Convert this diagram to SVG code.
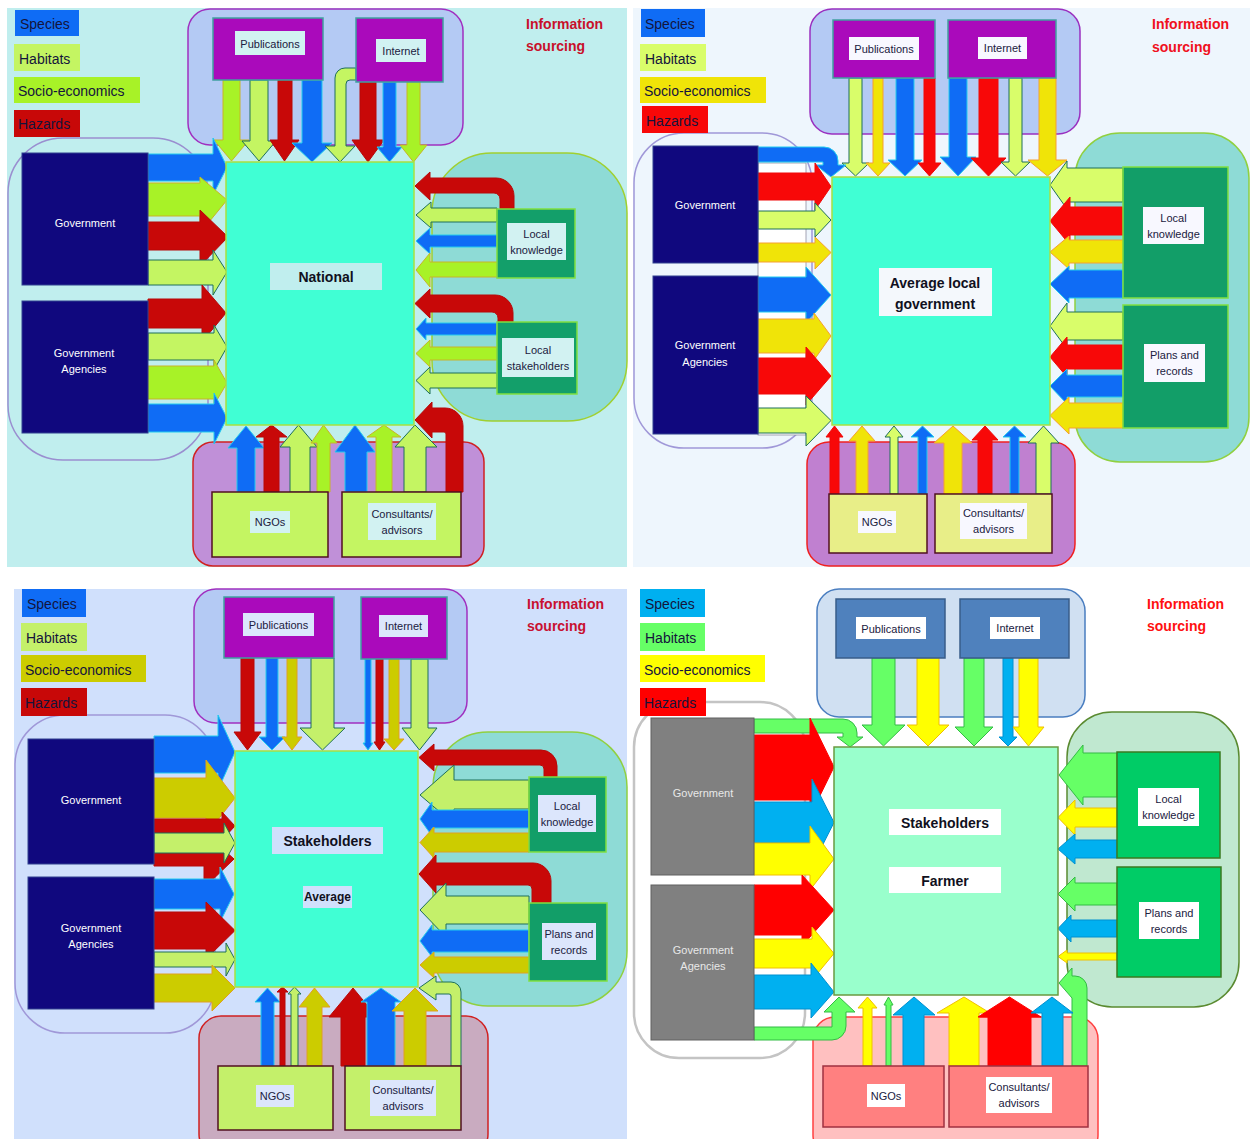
<svg xmlns="http://www.w3.org/2000/svg" width="1250" height="1139" viewBox="0 0 1250 1139">
<style>
text{font-family:"Liberation Sans",Arial,sans-serif}
.lg{font-size:14px;fill:#14143c}
.lb{font-size:11px;fill:#202040;text-anchor:middle}
.wt{font-size:11px;fill:#ffffff;text-anchor:middle}
.gt{font-size:11px;fill:#e8e8e8;text-anchor:middle}
.ct{font-size:14px;font-weight:bold;fill:#101020;text-anchor:middle}
.is{font-size:14px;font-weight:bold}
.a{stroke-width:1;stroke-linejoin:miter}
.p1b,.p2b,.p3b{fill:#0f6cf5;stroke:#22ccee}
.p1g{fill:#c4f562;stroke:#1f6f5a}
.p1l{fill:#a8f227;stroke:#c8b428}
.p1r,.p3r{fill:#c80808;stroke:#b80808}
.p2g{fill:#d9fd6a;stroke:#1f6f5a}
.p2y{fill:#f0e408;stroke:#f5a030}
.p2r{fill:#f80808;stroke:#f00808}
.p3g{fill:#c4f06a;stroke:#1f6f5a}
.p3o{fill:#cccc00;stroke:#e0a020}
.p4b{fill:#00b0f0;stroke:#0090d0}
.p4g{fill:#66ff66;stroke:#33bb44}
.p4y{fill:#ffff00;stroke:#f0c000}
.p4r{fill:#ff0000;stroke:#ff0000}
.nav{fill:#10087e;stroke:#304090}
.gry{fill:#808080;stroke:#606060}
</style>

<!-- ================= PANEL 1 ================= -->
<g id="panel1">
<rect x="7" y="8" width="620" height="559" fill="#c0eeee"/>
<rect id="p1-gov-group" x="8" y="138" width="200" height="322" rx="55" fill="none" stroke="#9a8fd0" stroke-width="1.5"/>
<rect id="p1-pub-group" x="188" y="9" width="275" height="136" rx="22" fill="#b4caf4" stroke="#a030c0" stroke-width="1.5"/>
<rect id="p1-local-group" x="432" y="153" width="195" height="268" rx="60" fill="#8edbd6" stroke="#a0d030" stroke-width="1.5"/>
<rect id="p1-ngo-group" x="193" y="442" width="291" height="124" rx="20" fill="#c090d8" stroke="#d02020" stroke-width="1.5"/>
<g id="p1-legend">
<rect x="15" y="10" width="64" height="26" fill="#0f6cf5"/><text class="lg" x="20" y="29">Species</text>
<rect x="14" y="44" width="66" height="27" fill="#c4f562"/><text class="lg" x="19" y="64">Habitats</text>
<rect x="14" y="77" width="126" height="26" fill="#a8f227"/><text class="lg" x="18" y="96">Socio-economics</text>
<rect x="14" y="110" width="66" height="27" fill="#c80808"/><text class="lg" x="18" y="129">Hazards</text>
</g>
<g id="p1-title"><text class="is" fill="#c8102a" x="526" y="29">Information</text><text class="is" fill="#c8102a" x="526" y="51">sourcing</text></g>
<g id="p1-connectors" class="a">
<polygon class="p1l" points="223,80 240,80 240,140 249,140 231.5,161 214,140 223,140"/>
<polygon class="p1g" points="250,80 268,80 268,141 276,141 259,161 242,141 250,141"/>
<polygon class="p1r" points="278,80 292,80 292,140 299,140 284.5,161 270,140 278,140"/>
<polygon class="p1b" points="302,80 322,80 322,143 332,143 312,162 292,143 302,143"/>
<path class="p1g" d="M356,68 L345,68 A10,10 0 0 0 335,78 L335,146 L325,146 L340,162 L355,146 L346,146 L346,84 A4,4 0 0 1 350,80 L356,80 Z"/>
<polygon class="p1r" points="360,82 376,82 376,140 384,140 368,162 352,140 360,140"/>
<polygon class="p1b" points="383,82 396,82 396,147 402,147 389.5,162 377,147 383,147"/>
<polygon class="p1l" points="407,82 420,82 420,145 427,145 413.5,162 400,145 407,145"/>

<polygon class="p1b" points="148,154 213,154 213,138 227,167 213,195 213,181 148,181"/>
<polygon class="p1l" points="148,183 200,183 200,177 227,200 200,233 200,216 148,216"/>
<polygon class="p1r" points="148,222 200,222 200,210 228,237 200,266 200,250 148,250"/>
<polygon class="p1g" points="148,260 213,260 213,250 227,272 213,295 213,285 148,285"/>
<polygon class="p1r" points="148,299 202,299 202,285 226,313 202,342 202,328 148,328"/>
<polygon class="p1g" points="148,333 214,333 214,325 227,347 214,370 214,360 148,360"/>
<polygon class="p1l" points="148,366 214,366 214,360 227,383 214,405 214,399 148,399"/>
<polygon class="p1b" points="148,404 214,404 214,393 227,418 214,444 214,432 148,432"/>

<path class="p1r" d="M514,209 L514,196 A18,18 0 0 0 496,178 L430,178 L430,172 L415,186 L430,200 L430,193 L494,193 A6,6 0 0 1 500,199 L500,209 Z"/>
<polygon class="p1g" points="497,208 431,208 431,202 416,215 431,228 431,222 497,222"/>
<polygon class="p1b" points="497,235 430,235 430,228 416,241 430,254 430,247 497,247"/>
<polygon class="p1l" points="497,262 430,262 430,253 416,270 430,287 430,277 497,277"/>
<path class="p1r" d="M513,322 L513,313 A18,18 0 0 0 495,295 L430,295 L430,289 L415,303.5 L430,318 L430,312 L492,312 A6,6 0 0 1 498,318 L498,322 Z"/>
<polygon class="p1b" points="497,323 426,323 426,318 416,329 426,340 426,335 497,335"/>
<polygon class="p1l" points="497,347 430,347 430,340 416,353.5 430,367 430,360 497,360"/>
<polygon class="p1g" points="497,373 430,373 430,367 416,380.5 430,394 430,388 497,388"/>
<path class="p1r" d="M463,492 L463,426 A18,18 0 0 0 445,408 L432,408 L432,402 L415,420 L432,438 L432,432 L444,432 A2,2 0 0 1 446,434 L446,492 Z"/>

<polygon class="p1b" points="237,492 255,492 255,448 264,448 246,426 228,448 237,448"/>
<polygon class="p1r" points="264,492 279,492 279,437 287,437 271.5,425 256,437 264,437"/>
<polygon class="p1g" points="290,492 310,492 310,447 317,447 298.5,425 280,447 290,447"/>
<polygon class="p1l" points="317,492 330,492 330,443 337,443 323.5,425 311,443 317,443"/>
<polygon class="p1b" points="345,492 367,492 367,452 375,452 355,425 335,452 345,452"/>
<polygon class="p1l" points="376,492 392,492 392,437 401,437 384,425 367,437 376,437"/>
<polygon class="p1g" points="404,492 426,492 426,447 437,447 415,425 395,447 404,447"/>
</g>
<g id="p1-national"><rect x="226" y="162" width="188" height="263" fill="#40ffd4" stroke="#a8e040" stroke-width="1.5"/><rect x="270" y="263" width="112" height="27" fill="#c0eeee"/><text class="ct" x="326" y="282">National</text></g>
<g id="p1-government"><rect class="nav" x="22" y="153" width="126" height="132"/><text class="wt" x="85" y="227">Government</text></g>
<g id="p1-agencies"><rect class="nav" x="22" y="301" width="126" height="132"/><text class="wt" x="84" y="357">Government</text><text class="wt" x="84" y="373">Agencies</text></g>
<g id="p1-publications"><rect x="213" y="18" width="110" height="62" fill="#aa0abb" stroke="#40a0a0" stroke-width="1.5"/><rect x="235" y="31" width="70" height="24" fill="#d2f2f2"/><text class="lb" x="270" y="47.5">Publications</text></g>
<g id="p1-internet"><rect x="356" y="18" width="87" height="64" fill="#aa0abb" stroke="#40a0a0" stroke-width="1.5"/><rect x="376" y="39" width="50" height="23" fill="#d2f2f2"/><text class="lb" x="401" y="55">Internet</text></g>
<g id="p1-localknowledge"><rect x="497" y="209" width="78" height="69" fill="#139f6a" stroke="#80e040" stroke-width="1.5"/><rect x="507" y="223" width="59" height="37" fill="#d2f2f2"/><text class="lb" x="536.5" y="238">Local</text><text class="lb" x="536.5" y="254">knowledge</text></g>
<g id="p1-localstakeholders"><rect x="497" y="322" width="80" height="72" fill="#139f6a" stroke="#80e040" stroke-width="1.5"/><rect x="502" y="338" width="72" height="39" fill="#d2f2f2"/><text class="lb" x="538" y="354">Local</text><text class="lb" x="538" y="370">stakeholders</text></g>
<g id="p1-ngos"><rect x="212" y="492" width="116" height="65" fill="#c4f562" stroke="#501020" stroke-width="1.5"/><rect x="250" y="511" width="40" height="22" fill="#d2f2f2"/><text class="lb" x="270" y="526">NGOs</text></g>
<g id="p1-consultants"><rect x="342" y="492" width="119" height="65" fill="#c4f562" stroke="#501020" stroke-width="1.5"/><rect x="368" y="503" width="68" height="37" fill="#d2f2f2"/><text class="lb" x="402" y="518">Consultants/</text><text class="lb" x="402" y="534">advisors</text></g>
</g>

<!-- ================= PANEL 2 ================= -->
<g id="panel2">
<rect x="633" y="8" width="617" height="559" fill="#eef6fd"/>
<rect id="p2-gov-group" x="634" y="133" width="178" height="315" rx="50" fill="none" stroke="#a098d8" stroke-width="1.5"/>
<rect id="p2-pub-group" x="810" y="9" width="270" height="125" rx="22" fill="#b4caf4" stroke="#9a30c0" stroke-width="1.5"/>
<rect id="p2-local-group" x="1075" y="133" width="174" height="329" rx="45" fill="#8edbd6" stroke="#90d040" stroke-width="1.5"/>
<rect id="p2-ngo-group" x="807" y="442" width="268" height="124" rx="22" fill="#c080d0" stroke="#f02020" stroke-width="1.5"/>
<g id="p2-legend">
<rect x="641" y="9" width="64" height="28" fill="#0f6cf5"/><text class="lg" x="645" y="29">Species</text>
<rect x="640" y="44" width="66" height="27" fill="#d9fd6a"/><text class="lg" x="645" y="64">Habitats</text>
<rect x="640" y="77" width="126" height="26" fill="#f0e408"/><text class="lg" x="644" y="96">Socio-economics</text>
<rect x="642" y="106" width="66" height="27" fill="#f80808"/><text class="lg" x="646" y="126">Hazards</text>
</g>
<g id="p2-title"><text class="is" fill="#f01020" x="1152" y="29">Information</text><text class="is" fill="#f01020" x="1152" y="52">sourcing</text></g>
<rect x="758" y="163" width="48" height="272" fill="#ffffff" stroke="#9090a0" stroke-width="0.8"/>
<g id="p2-connectors" class="a">
<polygon class="p2g" points="849,78 862,78 862,163 869,163 855.5,176 842,163 849,163"/>
<polygon class="p2y" points="873,78 883,78 883,163 890,163 878,176 866,163 873,163"/>
<polygon class="p2b" points="896,78 914,78 914,160 922,160 905,176 888,160 896,160"/>
<polygon class="p2r" points="924,78 935,78 935,163 941,163 929.5,176 918,163 924,163"/>
<polygon class="p2b" points="949,78 967,78 967,157 976,157 958,176 940,157 949,157"/>
<polygon class="p2r" points="979,78 998,78 998,158 1006,158 988.5,176 971,158 979,158"/>
<polygon class="p2g" points="1009,78 1022,78 1022,162 1030,162 1015.5,176 1001,162 1009,162"/>
<polygon class="p2y" points="1039,78 1056,78 1056,160 1067,160 1047.5,176 1028,160 1039,160"/>

<path class="p2b" d="M758,147 L824,147 A14,14 0 0 1 838,161 L838,165 L846,165 L831,177 L816,165 L823,165 L823,162 L758,162 Z"/>
<polygon class="p2r" points="758,173 815,173 815,163 831,186.5 815,210 815,200 758,200"/>
<polygon class="p2g" points="758,211 815,211 815,203 831,220 815,237 815,229 758,229"/>
<polygon class="p2y" points="758,243 815,243 815,237 831,252.5 815,269 815,262 758,262"/>
<polygon class="p2b" points="758,277 806,277 806,267 831,295 806,323 806,312 758,312"/>
<polygon class="p2y" points="758,319 814,319 814,313 831,336 814,360 814,353 758,353"/>
<polygon class="p2r" points="758,358 806,358 806,347 831,376 806,405 806,394 758,394"/>
<polygon class="p2g" points="758,408 806,408 806,396 831,420.5 806,446 806,433 758,433"/>

<polygon class="p2g" points="1123,168 1067,168 1067,161 1050,185 1067,209 1067,202 1123,202"/>
<polygon class="p2r" points="1123,207 1070,207 1070,197 1050,221 1070,245 1070,235 1123,235"/>
<polygon class="p2y" points="1123,240 1069,240 1069,236 1050,252 1069,269 1069,263 1123,263"/>
<polygon class="p2b" points="1123,270 1069,270 1069,266 1050,284 1069,303 1069,298 1123,298"/>
<polygon class="p2g" points="1123,312 1067,312 1067,303 1050,326 1067,349 1067,340 1123,340"/>
<polygon class="p2r" points="1123,345 1067,345 1067,337 1050,357 1067,377 1067,369 1123,369"/>
<polygon class="p2b" points="1123,375 1067,375 1067,369 1050,386 1067,404 1067,397 1123,397"/>
<polygon class="p2y" points="1123,403 1069,403 1069,397 1050,415.5 1069,434 1069,428 1123,428"/>

<polygon class="p2r" points="830,494 839,494 839,437 843,437 834.5,426 826,437 830,437"/>
<polygon class="p2y" points="856,494 868,494 868,441 875,441 862,426 849,441 856,441"/>
<polygon class="p2g" points="890,494 898,494 898,437 903,437 894,426 885,437 890,437"/>
<polygon class="p2b" points="918,494 927,494 927,437 934,437 922.5,426 911,437 918,437"/>
<polygon class="p2y" points="944,494 962,494 962,443 972,443 953,426 934,443 944,443"/>
<polygon class="p2r" points="978,494 992,494 992,440 998,440 985,426 972,440 978,440"/>
<polygon class="p2b" points="1010,494 1019,494 1019,437 1026,437 1014.5,426 1003,437 1010,437"/>
<polygon class="p2g" points="1036,494 1051,494 1051,443 1059,443 1043.5,426 1028,443 1036,443"/>
</g>
<g id="p2-center"><rect x="832" y="177" width="218" height="248" fill="#40ffd4" stroke="#a8e040" stroke-width="1.5"/><rect x="879" y="268" width="113" height="48" fill="#f4f8fc"/><text class="ct" x="935" y="288">Average local</text><text class="ct" x="935" y="309">government</text></g>
<g id="p2-government"><rect class="nav" x="653" y="146" width="105" height="117"/><text class="wt" x="705" y="209">Government</text></g>
<g id="p2-agencies"><rect class="nav" x="653" y="276" width="105" height="158"/><text class="wt" x="705" y="349">Government</text><text class="wt" x="705" y="366">Agencies</text></g>
<g id="p2-publications"><rect x="833" y="20" width="102" height="58" fill="#aa0abb" stroke="#40a0a0" stroke-width="1.5"/><rect x="849" y="37" width="70" height="23" fill="#f8f8ff"/><text class="lb" x="884" y="53">Publications</text></g>
<g id="p2-internet"><rect x="948" y="20" width="108" height="58" fill="#aa0abb" stroke="#40a0a0" stroke-width="1.5"/><rect x="978" y="37" width="49" height="22" fill="#f8f8ff"/><text class="lb" x="1002.5" y="52">Internet</text></g>
<g id="p2-localknowledge"><rect x="1123" y="167" width="105" height="131" fill="#129e68" stroke="#80e040" stroke-width="1.5"/><rect x="1143" y="207" width="61" height="37" fill="#f8f8ff"/><text class="lb" x="1173.5" y="222">Local</text><text class="lb" x="1173.5" y="238">knowledge</text></g>
<g id="p2-plans"><rect x="1123" y="305" width="105" height="123" fill="#129e68" stroke="#80e040" stroke-width="1.5"/><rect x="1144" y="344" width="61" height="38" fill="#f8f8ff"/><text class="lb" x="1174.5" y="359">Plans and</text><text class="lb" x="1174.5" y="375">records</text></g>
<g id="p2-ngos"><rect x="829" y="494" width="98" height="59" fill="#e8ee88" stroke="#501020" stroke-width="1.5"/><rect x="858" y="511" width="38" height="22" fill="#f8f8ff"/><text class="lb" x="877" y="526">NGOs</text></g>
<g id="p2-consultants"><rect x="935" y="494" width="117" height="59" fill="#e8ee88" stroke="#501020" stroke-width="1.5"/><rect x="960" y="503" width="67" height="36" fill="#f8f8ff"/><text class="lb" x="993.5" y="517">Consultants/</text><text class="lb" x="993.5" y="533">advisors</text></g>
</g>

<!-- ================= PANEL 3 ================= -->
<g id="panel3">
<rect x="14" y="589" width="613" height="550" fill="#d0e0fc"/>
<rect id="p3-gov-group" x="15" y="715" width="200" height="318" rx="50" fill="none" stroke="#a098d8" stroke-width="1.5"/>
<rect id="p3-pub-group" x="194" y="589" width="273" height="134" rx="22" fill="#b4caf4" stroke="#a030c0" stroke-width="1.5"/>
<rect id="p3-local-group" x="433" y="732" width="194" height="274" rx="55" fill="#8edbd6" stroke="#90d040" stroke-width="1.5"/>
<rect id="p3-ngo-group" x="199" y="1016" width="289" height="140" rx="22" fill="#c9abc0" stroke="#d02020" stroke-width="1.5"/>
<g id="p3-legend">
<rect x="22" y="589" width="64" height="28" fill="#0f6cf5"/><text class="lg" x="27" y="609">Species</text>
<rect x="21" y="623" width="66" height="28" fill="#c4f06a"/><text class="lg" x="26" y="643">Habitats</text>
<rect x="21" y="655" width="125" height="27" fill="#cccc00"/><text class="lg" x="25" y="675">Socio-economics</text>
<rect x="21" y="688" width="66" height="28" fill="#c80808"/><text class="lg" x="25" y="708">Hazards</text>
</g>
<g id="p3-title"><text class="is" fill="#c81030" x="527" y="609">Information</text><text class="is" fill="#c81030" x="527" y="631">sourcing</text></g>
<g id="p3-connectors" class="a">
<polygon class="p3r" points="241,658 254,658 254,732 261,732 247.5,750 234,732 241,732"/>
<polygon class="p3b" points="266,658 278,658 278,737 285,737 272,750 259,737 266,737"/>
<polygon class="p3o" points="287,658 297,658 297,737 302,737 292,750 282,737 287,737"/>
<polygon class="p3g" points="311,658 334,658 334,728 345,728 322.5,750 300,728 311,728"/>
<polygon class="p3b" points="365,659 371,659 371,743 373,743 368,750 363,743 365,743"/>
<polygon class="p3r" points="376,659 383,659 383,742 385,742 379.5,750 374,742 376,742"/>
<polygon class="p3o" points="389,659 399,659 399,739 404,739 394,750 384,739 389,739"/>
<polygon class="p3g" points="411,659 428,659 428,728 437,728 419.5,750 402,728 411,728"/>

<polygon class="p3b" points="154,736 218,736 218,715 235,752 218,790 218,773 154,773"/>
<polygon class="p3o" points="154,778 206,778 206,760 235,798 206,835 206,818 154,818"/>
<polygon class="p3r" points="154,819 222,819 222,812 235,826 222,840 222,833 154,833"/>
<polygon class="p3r" points="154,853 204,853 204,832 234,859 204,888 204,866 154,866"/>
<polygon class="p3g" points="154,833 224,833 224,823 235,843 224,863 224,853 154,853"/>
<polygon class="p3b" points="154,879 220,879 220,867 234,894 220,922 220,909 154,909"/>
<polygon class="p3r" points="154,912 206,912 206,902 235,930.5 206,959 206,949 154,949"/>
<polygon class="p3g" points="154,952 226,952 226,943 235,959.5 226,976 226,967 154,967"/>
<polygon class="p3o" points="154,974 212,974 212,965 235,988 212,1011 212,1002 154,1002"/>

<path class="p3r" d="M557,777 L557,766 A16,16 0 0 0 541,750 L434,750 L434,744 L419,757.5 L434,771 L434,765 L540,765 A4,4 0 0 1 544,769 L544,777 Z"/>
<polygon class="p3g" points="529,780 454,780 454,765 420,795 454,824 454,809 529,809"/>
<polygon class="p3b" points="529,810 432,810 432,802 420,819 432,836 432,828 529,828"/>
<polygon class="p3o" points="529,833 434,833 434,827 420,842.5 434,858 434,852 529,852"/>
<path class="p3r" d="M551,903 L551,881 A18,18 0 0 0 533,863 L436,863 L436,855 L419,874 L436,893 L436,885 L528,885 A4,4 0 0 1 532,889 L532,903 Z"/>
<polygon class="p3g" points="529,896 446,896 446,883 420,910 446,937 446,924 529,924"/>
<polygon class="p3b" points="529,930 432,930 432,925 420,941 432,957 432,952 529,952"/>
<polygon class="p3o" points="529,957 434,957 434,952 420,965 434,978 434,973 529,973"/>
<path class="p3g" d="M461,1066 L461,992 A10,10 0 0 0 451,982 L436,982 L436,976 L419,988 L436,1000 L436,994 L449,994 A2,2 0 0 1 451,996 L451,1066 Z"/>

<polygon class="p3b" points="261,1066 274,1066 274,1002 280,1002 267.5,988 255,1002 261,1002"/>
<polygon class="p3r" points="280,1066 285,1066 285,992 288,992 282.5,987 277,992 280,992"/>
<polygon class="p3g" points="291,1066 298,1066 298,994 301,994 294.5,987 288,994 291,994"/>
<polygon class="p3o" points="307,1066 322,1066 322,1007 330,1007 314.5,988 299,1007 307,1007"/>
<polygon class="p3r" points="341,1066 365,1066 365,1017 377,1017 353,988 329,1017 341,1017"/>
<polygon class="p3b" points="367,1066 395,1066 395,1002 401,1002 381,988 361,1002 367,1002"/>
<polygon class="p3o" points="404,1066 426,1066 426,1011 438,1011 415,988 392,1011 404,1011"/>
</g>
<g id="p3-center"><rect x="235" y="751" width="183" height="236" fill="#40ffd4" stroke="#a8e040" stroke-width="1.5"/><rect x="272" y="827" width="111" height="27" fill="#d0e0fc"/><text class="ct" x="327.5" y="846">Stakeholders</text><rect x="303" y="886" width="49" height="22" fill="#d0e0fc"/><text class="ct" style="font-size:12px" x="327.5" y="901">Average</text></g>
<g id="p3-government"><rect class="nav" x="28" y="739" width="126" height="125"/><text class="wt" x="91" y="804">Government</text></g>
<g id="p3-agencies"><rect class="nav" x="28" y="877" width="126" height="132"/><text class="wt" x="91" y="932">Government</text><text class="wt" x="91" y="948">Agencies</text></g>
<g id="p3-publications"><rect x="224" y="597" width="110" height="61" fill="#aa0abb" stroke="#40a0a0" stroke-width="1.5"/><rect x="243" y="613" width="71" height="23" fill="#dce6fc"/><text class="lb" x="278.5" y="629">Publications</text></g>
<g id="p3-internet"><rect x="361" y="597" width="86" height="62" fill="#aa0abb" stroke="#40a0a0" stroke-width="1.5"/><rect x="379" y="615" width="49" height="22" fill="#dce6fc"/><text class="lb" x="403.5" y="630">Internet</text></g>
<g id="p3-localknowledge"><rect x="529" y="777" width="77" height="75" fill="#129e68" stroke="#80e040" stroke-width="1.5"/><rect x="538" y="795" width="58" height="37" fill="#dce6fc"/><text class="lb" x="567" y="810">Local</text><text class="lb" x="567" y="826">knowledge</text></g>
<g id="p3-plans"><rect x="529" y="903" width="78" height="78" fill="#129e68" stroke="#80e040" stroke-width="1.5"/><rect x="542" y="923" width="54" height="37" fill="#dce6fc"/><text class="lb" x="569" y="938">Plans and</text><text class="lb" x="569" y="954">records</text></g>
<g id="p3-ngos"><rect x="218" y="1066" width="115" height="64" fill="#c4f06a" stroke="#501020" stroke-width="1.5"/><rect x="256" y="1085" width="38" height="22" fill="#dce6fc"/><text class="lb" x="275" y="1100">NGOs</text></g>
<g id="p3-consultants"><rect x="345" y="1066" width="116" height="64" fill="#c4f06a" stroke="#501020" stroke-width="1.5"/><rect x="370" y="1080" width="66" height="36" fill="#dce6fc"/><text class="lb" x="403" y="1094">Consultants/</text><text class="lb" x="403" y="1110">advisors</text></g>
</g>

<!-- ================= PANEL 4 ================= -->
<g id="panel4">
<rect x="633" y="589" width="617" height="550" fill="#ffffff"/>
<rect id="p4-gov-group" x="634" y="702" width="171" height="356" rx="45" fill="#ffffff" stroke="#c4c4c4" stroke-width="2.5"/>
<rect id="p4-pub-group" x="817" y="589" width="268" height="128" rx="22" fill="#d0e0f2" stroke="#4a7ec0" stroke-width="1.5"/>
<rect id="p4-local-group" x="1067" y="712" width="172" height="295" rx="45" fill="#c0e8d0" stroke="#5a8a30" stroke-width="1.5"/>
<rect id="p4-ngo-group" x="813" y="1017" width="285" height="140" rx="22" fill="#ffc0c0" stroke="#ff4040" stroke-width="1.5"/>
<g id="p4-legend">
<rect x="640" y="589" width="65" height="28" fill="#00b0f0"/><text class="lg" x="645" y="609">Species</text>
<rect x="640" y="623" width="65" height="28" fill="#66ff66"/><text class="lg" x="645" y="643">Habitats</text>
<rect x="640" y="655" width="125" height="27" fill="#ffff00"/><text class="lg" x="644" y="675">Socio-economics</text>
<rect x="640" y="688" width="66" height="28" fill="#ff0000"/><text class="lg" x="644" y="708">Hazards</text>
</g>
<g id="p4-title"><text class="is" fill="#ff1010" x="1147" y="609">Information</text><text class="is" fill="#ff1010" x="1147" y="631">sourcing</text></g>
<g id="p4-connectors" class="a">
<polygon class="p4g" points="872,658 895,658 895,725 905,725 883.5,746 862,725 872,725"/>
<polygon class="p4y" points="917,658 939,658 939,725 949,725 928,746 907,725 917,725"/>
<polygon class="p4g" points="964,658 984,658 984,727 993,727 974,746 955,727 964,727"/>
<polygon class="p4b" points="1003,658 1013,658 1013,737 1017,737 1008,746 999,737 1003,737"/>
<polygon class="p4y" points="1019,658 1038,658 1038,727 1044,727 1028.5,746 1013,727 1019,727"/>

<path class="p4g" d="M754,719 L843,719 A14,14 0 0 1 857,733 L857,737 L863,737 L850,747 L837,737 L843,737 L843,733 L754,733 Z"/>
<polygon class="p4r" points="754,735 810,735 810,718 834,767 810,816 810,800 754,800"/>
<polygon class="p4b" points="754,802 812,802 812,779 834,822.5 812,866 812,843 754,843"/>
<polygon class="p4y" points="754,843 810,843 810,826 834,859 810,890 810,875 754,875"/>
<polygon class="p4r" points="754,885 802,885 802,875 834,910 802,946 802,935 754,935"/>
<polygon class="p4y" points="754,939 812,939 812,927 834,953.5 812,980 812,968 754,968"/>
<polygon class="p4b" points="754,975 811,975 811,963 834,992 811,1018 811,1009 754,1009"/>
<path class="p4g" d="M754,1040 L832,1040 A14,14 0 0 0 846,1026 L846,1012 L855,1012 L839,997 L824,1012 L832,1012 L832,1027 L754,1027 Z"/>

<polygon class="p4g" points="1117,753 1083,753 1083,745 1059,775 1083,805 1083,797 1117,797"/>
<polygon class="p4y" points="1117,808 1075,808 1075,800 1058,817.5 1075,835 1075,827 1117,827"/>
<polygon class="p4b" points="1117,840 1075,840 1075,834 1058,849 1075,864 1075,858 1117,858"/>
<polygon class="p4g" points="1117,883 1075,883 1075,877 1058,894 1075,911 1075,905 1117,905"/>
<polygon class="p4b" points="1117,920 1071,920 1071,915 1058,928.5 1071,942 1071,937 1117,937"/>
<polygon class="p4y" points="1117,953 1067,953 1067,950 1058,956.5 1067,963 1067,960 1117,960"/>
<path class="p4g" d="M1087,1066 L1087,988 A12,12 0 0 0 1075,976 L1072,976 L1072,968 L1059,983 L1072,998 L1072,1066 Z"/>

<polygon class="p4y" points="863,1066 872,1066 872,1008 877,1008 867.5,997 858,1008 863,1008"/>
<polygon class="p4g" points="886,1066 891,1066 891,1005 893,1005 888.5,997 884,1005 886,1005"/>
<polygon class="p4b" points="903,1066 924,1066 924,1015 935,1015 914,997 893,1015 903,1015"/>
<polygon class="p4y" points="949,1066 979,1066 979,1013 990,1013 964,997 937,1013 949,1013"/>
<polygon class="p4r" points="988,1066 1031,1066 1031,1017 1041,1017 1009.5,997 978,1017 988,1017"/>
<polygon class="p4b" points="1042,1066 1063,1066 1063,1013 1073,1013 1052,997 1031,1013 1042,1013"/>
</g>
<g id="p4-center"><rect x="834" y="747" width="224" height="248" fill="#99ffcc" stroke="#6a9a40" stroke-width="1.5"/><rect x="889" y="809" width="112" height="26" fill="#ffffff"/><text class="ct" x="945" y="828">Stakeholders</text><rect x="889" y="867" width="112" height="26" fill="#ffffff"/><text class="ct" x="945" y="886">Farmer</text></g>
<g id="p4-government"><rect class="gry" x="651" y="718" width="103" height="157"/><text class="gt" x="703" y="797">Government</text></g>
<g id="p4-agencies"><rect class="gry" x="651" y="885" width="103" height="155"/><text class="gt" x="703" y="954">Government</text><text class="gt" x="703" y="970">Agencies</text></g>
<g id="p4-publications"><rect x="836" y="599" width="109" height="59" fill="#4f81bd" stroke="#385d8a" stroke-width="1.5"/><rect x="856" y="617" width="70" height="22" fill="#ffffff"/><text class="lb" x="891" y="632.5">Publications</text></g>
<g id="p4-internet"><rect x="960" y="599" width="109" height="59" fill="#4f81bd" stroke="#385d8a" stroke-width="1.5"/><rect x="990" y="617" width="50" height="22" fill="#ffffff"/><text class="lb" x="1015" y="632">Internet</text></g>
<g id="p4-localknowledge"><rect x="1117" y="752" width="103" height="106" fill="#00cc66" stroke="#3a7a20" stroke-width="1.5"/><rect x="1138" y="788" width="61" height="38" fill="#ffffff"/><text class="lb" x="1168.5" y="803">Local</text><text class="lb" x="1168.5" y="819">knowledge</text></g>
<g id="p4-plans"><rect x="1117" y="867" width="104" height="110" fill="#00cc66" stroke="#3a7a20" stroke-width="1.5"/><rect x="1139" y="902" width="60" height="37" fill="#ffffff"/><text class="lb" x="1169" y="917">Plans and</text><text class="lb" x="1169" y="933">records</text></g>
<g id="p4-ngos"><rect x="823" y="1066" width="121" height="61" fill="#ff8080" stroke="#a03040" stroke-width="1.5"/><rect x="867" y="1084" width="38" height="23" fill="#ffffff"/><text class="lb" x="886" y="1100">NGOs</text></g>
<g id="p4-consultants"><rect x="949" y="1066" width="139" height="61" fill="#ff8080" stroke="#a03040" stroke-width="1.5"/><rect x="986" y="1077" width="66" height="36" fill="#ffffff"/><text class="lb" x="1019" y="1091">Consultants/</text><text class="lb" x="1019" y="1107">advisors</text></g>
</g>
</svg>
